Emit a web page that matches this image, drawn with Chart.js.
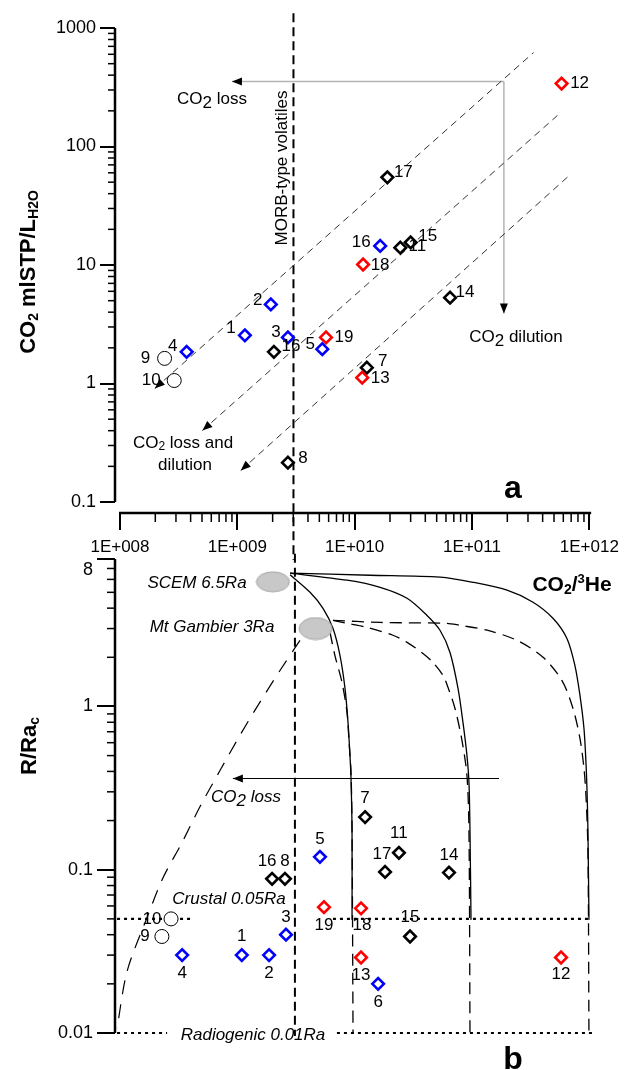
<!DOCTYPE html>
<html>
<head>
<meta charset="utf-8">
<script src="https://cdn.jsdelivr.net/npm/chart.js@4.4.1/dist/chart.umd.min.js"></script>
<style>
  body { margin: 0; background: #fff; }
  #lienzo { position: relative; width: 626px; height: 1070px; overflow: hidden; }
  #lienzo canvas { position: absolute; left: 0; }
</style>
</head>
<body>
<div id="lienzo">
  <canvas id="graficaA" width="626" height="560" style="top:0"></canvas>
  <canvas id="graficaB" width="626" height="560" style="top:510px"></canvas>
</div>
<script>
const FUENTE = '"Liberation Sans", Arial, sans-serif';
Chart.defaults.font.family = FUENTE;
Chart.defaults.color = '#000';

// Ejes (compartidos en x)
const ticksX = [1e8, 1e9, 1e10, 1e11, 1e12];
const ticksXtxt = ['1E+008', '1E+009', '1E+010', '1E+011', '1E+012'];
const ticksYa = [0.1, 1, 10, 100, 1000];
const ticksYaTxt = ['0.1', '1', '10', '100', '1000'];
const ticksYb = [0.01, 0.1, 1, 8];
const ticksYbTxt = ['0.01', '0.1', '1', '8'];

// ---- Panel a: CO2/3He vs CO2 mlSTP/L H2O ----
const azulA_id = ['1', '2', '3', '4', '5', '16'];
const azulA_x = [1.16e9, 1.93e9, 2.7e9, 3.7e8, 5.3e9, 1.65e10];
const azulA_y = [2.55, 4.65, 2.45, 1.85, 1.95, 14.5];

const rojoA_id = ['12', '13', '18', '19'];
const rojoA_x = [5.8e11, 1.16e10, 1.18e10, 5.7e9];
const rojoA_y = [340, 1.12, 10.1, 2.45];

const negroA_id = ['7', '8', '11', '14', '15', '16', '17'];
const negroA_x = [1.27e10, 2.7e9, 2.45e10, 6.5e10, 3.0e10, 2.05e9, 1.9e10];
const negroA_y = [1.36, 0.215, 14, 5.3, 15.5, 1.85, 55];

const circA_id = ['9', '10'];
const circA_x = [2.4e8, 2.9e8];
const circA_y = [1.63, 1.06];

// rectas de pérdida / dilución (extremo inferior = punta de flecha)
const recta1_x = [1.98e8, 3.35e11];
const recta1_y = [0.908, 621];
const recta2_x = [5.04e8, 5.35e11];
const recta2_y = [0.401, 183];
const recta3_x = [1.07e9, 6.89e11];
const recta3_y = [0.1845, 58];

// flechas grises
const perdida_x = [1.87e11, 9.0e8];
const perdida_y = [354, 354];
const dilucion_x = [1.87e11, 1.87e11];
const dilucion_y = [354, 3.9];

// MORB
const morbA_x = [3.01e9, 3.01e9];
const morbA_y = [1330, 0.03];

// ---- Panel b: CO2/3He vs R/Rac ----
const azulB_id = ['1', '2', '3', '4', '5', '6'];
const azulB_x = [1.07e9, 1.82e9, 2.53e9, 3.35e8, 4.9e9, 1.52e10];
const azulB_y = [0.03, 0.03, 0.04, 0.03, 0.12, 0.02];

const rojoB_id = ['12', '13', '18', '19'];
const rojoB_x = [5.35e11, 1.09e10, 1.09e10, 5.3e9];
const rojoB_y = [0.029, 0.029, 0.058, 0.059];

const negroB_id = ['7', '8', '11', '14', '15', '16', '17'];
const negroB_x = [1.18e10, 2.48e9, 2.28e10, 6.04e10, 2.83e10, 1.93e9, 1.74e10];
const negroB_y = [0.21, 0.088, 0.127, 0.096, 0.039, 0.088, 0.097];

const circB_id = ['9', '10'];
const circB_x = [2.26e8, 2.7e8];
const circB_y = [0.039, 0.05];

// curvas de mezcla SCEM 6.5Ra -> cortical (continuas)
const s1_x = [2.74e9, 4.04e9, 5.2e9, 6.31e9, 7.24e9, 7.98e9, 8.46e9, 8.79e9, 8.97e9, 9.15e9, 9.15e9];
const s1_y = [6.4, 5.0, 3.99, 3.01, 2.05, 1.29, 0.798, 0.5, 0.362, 0.173, 0.0493];
const s2_x = [2.74e9, 8.3e9, 1.58e10, 2.67e10, 3.94e10, 5.07e10, 6.16e10, 7.2e10, 7.93e10, 8.57e10, 8.91e10, 9.09e10, 9.27e10];
const s2_y = [6.55, 5.93, 5.37, 4.6, 3.61, 2.93, 2.14, 1.29, 0.798, 0.5, 0.342, 0.173, 0.0493];
const s3_x = [2.74e9, 1.3e10, 5.07e10, 9.64e10, 1.87e11, 3.1e11, 4.57e11, 6.0e11, 7.01e11, 7.73e11, 8.36e11, 8.69e11, 8.86e11, 9.03e11, 9.21e11];
const s3_y = [6.55, 6.36, 6.19, 5.76, 5.15, 4.35, 3.47, 2.61, 1.78, 1.17, 0.733, 0.453, 0.314, 0.173, 0.0493];

// Mt Gambier 3Ra -> radiogénico (discontinuas)
const d1_x = [5.96e9, 6.56e9, 7.53e9, 8.3e9, 8.64e9, 8.97e9, 9.15e9, 9.33e9];
const d1_y = [2.84, 2.05, 1.40, 0.919, 0.601, 0.394, 0.173, 0.01];
const d2_x = [6.31e9, 8.3e9, 1.22e10, 2.03e10, 2.67e10, 3.64e10, 4.42e10, 5.37e10, 5.92e10, 6.79e10, 7.78e10, 8.57e10, 8.91e10, 9.09e10];
const d2_y = [3.37, 3.23, 3.05, 2.73, 2.47, 2.11, 1.86, 1.55, 1.31, 0.972, 0.618, 0.377, 0.173, 0.01];
const d3_x = [6.31e9, 1.58e10, 5.81e10, 7.48e10, 1.27e11, 2.27e11, 3.77e11, 5.45e11, 6.75e11, 7.73e11, 8.36e11, 8.69e11, 9.03e11, 9.21e11];
const d3_y = [3.37, 3.27, 3.23, 3.14, 2.93, 2.54, 2.0, 1.44, 0.972, 0.637, 0.417, 0.284, 0.131, 0.01];

// pérdida de CO2 desde Mt Gambier
const perdB_x = [3.32e9, 2.25e9, 1.52e9, 1.03e9, 7.0e8, 4.75e8, 3.34e8, 2.31e8, 1.69e8, 1.15e8, 9.44e7];
const perdB_y = [2.54, 1.66, 1.06, 0.664, 0.405, 0.244, 0.1465, 0.0893, 0.0508, 0.024, 0.0107];

// líneas de referencia
const cortIzq_x = [9.44e7, 3.91e8];
const cortDer_x = [6.31e9, 9.77e11];
const cort_y = [0.05, 0.05];
const radIzq_x = [9.44e7, 2.5e8];
const radDer_x = [6.82e9, 9.77e11];
const rad_y = [0.01, 0.01];

const flechaB_x = [1.6e11, 9.0e8];
const flechaB_y = [0.362, 0.362];

const morbB_x = [3.01e9, 3.01e9];
const morbB_y = [8.6, 0.0096];

const scem_x = [1.96e9];
const scem_y = [5.8];
const gambier_x = [4.5e9];
const gambier_y = [3.0];

// desplazamiento de etiquetas (px respecto al punto)
const despAzulA = [[-14, -7], [-13, -4], [-12, -5], [-14, -6], [-12, -5], [-19, -4]];
const despRojoA = [[18, 0], [18, 1], [17, 1], [18, 0]];
const despNegroA = [[16, -6], [15, -4], [17, -1], [15, -5], [17, -6], [17, -6], [16, -5]];
const despCircA = [[-19, 0], [-23, 0]];
const despAzulB = [[0, -19], [0, 18], [0, -17], [0, 18], [0, -17], [0, 18]];
const despRojoB = [[0, 17], [0, 18], [1, 17], [0, 18]];
const despNegroB = [[0, -19], [0, -17], [0, -19], [0, -17], [0, -19], [-5, -17], [-3, -18]];
const despCircB = [[-17, 0], [-19, 0]];

const N17 = '17px ' + FUENTE;
const N12 = '12px ' + FUENTE;
const I17 = 'italic 17px ' + FUENTE;
const B22 = 'bold 22px ' + FUENTE;
const B21 = 'bold 21px ' + FUENTE;
const B14 = 'bold 14px ' + FUENTE;
const B13 = 'bold 13px ' + FUENTE;
const B32 = 'bold 32px ' + FUENTE;

const textosA = [
  { p: [['CO', N17], ['2', N17, 4], [' loss', N17]], x: 212, y: 99 },
  { p: [['CO', N17], ['2', N17, 4], [' dilution', N17]], x: 516, y: 337 },
  { p: [['CO', N17], ['2', N12, 4], [' loss and', N17]], x: 183, y: 443 },
  { p: [['dilution', N17]], x: 185, y: 465 },
  { p: [['MORB-type volatiles', N17]], x: 282, y: 168, rot: -Math.PI / 2 },
  { p: [['a', B32]], x: 513, y: 498, base: 'alphabetic' },
  { p: [['CO', B22], ['2', B14, 5], [' mlSTP/L', B22], ['H2O', B14, 5]], x: 29, y: 272, rot: -Math.PI / 2 }
];
const textosB = [
  { p: [['SCEM 6.5Ra', I17]], x: 197, y: 583 },
  { p: [['Mt Gambier 3Ra', I17]], x: 212, y: 627 },
  { p: [['CO', I17], ['2', I17, 4], [' loss', I17]], x: 246, y: 797 },
  { p: [['Crustal 0.05Ra', I17]], x: 229, y: 899 },
  { p: [['Radiogenic 0.01Ra', I17]], x: 253, y: 1035 },
  { p: [['CO', B21], ['2', B14, 5], ['/', B21], ['3', B13, -6], ['He', B21]], x: 572, y: 585 },
  { p: [['b', B32]], x: 513, y: 1069, base: 'alphabetic' },
  { p: [['R/Ra', B22], ['c', B14, 5]], x: 30, y: 746, rot: -Math.PI / 2 }
];

function puntos(xs, ys) {
  return xs.map((x, i) => ({ x, y: ys[i] }));
}

function escribe(ctx, partes, x, y, rot, base) {
  ctx.save();
  ctx.translate(x, y);
  if (rot) ctx.rotate(rot);
  ctx.textBaseline = base || 'middle';
  ctx.textAlign = 'left';
  ctx.fillStyle = '#000';
  let ancho = 0;
  partes.forEach(p => { ctx.font = p[1]; ancho += ctx.measureText(p[0]).width; });
  let cx = -ancho / 2;
  partes.forEach(p => {
    ctx.font = p[1];
    ctx.fillText(p[0], cx, p[2] || 0);
    cx += ctx.measureText(p[0]).width;
  });
  ctx.restore();
}

function menores(desde, hasta, tope) {
  const v = [];
  for (let e = desde; e <= hasta; e++) {
    for (let m = 2; m <= 9; m++) {
      const val = m * Math.pow(10, e);
      if (val < tope) v.push(val);
    }
  }
  return v;
}

function elipse(w, h) {
  const c = document.createElement('canvas');
  c.width = w + 2; c.height = h + 2;
  const g = c.getContext('2d');
  g.fillStyle = '#c8c8c8';
  g.strokeStyle = '#a5a5a5';
  g.lineWidth = 1;
  g.beginPath();
  g.ellipse(c.width / 2, c.height / 2, w / 2, h / 2, 0, 0, 2 * Math.PI);
  g.fill(); g.stroke();
  return c;
}

// ejes, marcas menores, textos, etiquetas y flechas
const decorado = {
  id: 'decorado',
  afterDatasetsDraw(chart, args, opts) {
    const ctx = chart.ctx;
    const { x, y } = chart.scales;
    const area = chart.chartArea;

    // etiquetas de puntos
    chart.data.datasets.forEach((ds, i) => {
      const meta = chart.getDatasetMeta(i);
      if (ds.etiquetas) {
        ctx.save();
        ctx.font = N17;
        ctx.fillStyle = '#000';
        ctx.textAlign = 'center';
        ctx.textBaseline = 'middle';
        meta.data.forEach((pt, j) => {
          ctx.fillText(ds.etiquetas[j], pt.x + ds.desp[j][0], pt.y + ds.desp[j][1]);
        });
        ctx.restore();
      }
      if (ds.flecha) {
        const n = meta.data.length;
        const punta = ds.flecha === 'inicio' ? meta.data[0] : meta.data[n - 1];
        const cola = ds.flecha === 'inicio' ? meta.data[1] : meta.data[n - 2];
        const ang = Math.atan2(punta.y - cola.y, punta.x - cola.x);
        ctx.save();
        ctx.translate(punta.x, punta.y);
        ctx.rotate(ang);
        ctx.fillStyle = '#000';
        ctx.beginPath();
        ctx.moveTo(0, 0);
        ctx.lineTo(-10, -4);
        ctx.lineTo(-10, 4);
        ctx.closePath();
        ctx.fill();
        ctx.restore();
      }
    });

    // líneas de ejes
    ctx.save();
    ctx.strokeStyle = '#000';
    ctx.lineWidth = 2.5;
    ctx.beginPath();
    ctx.moveTo(area.left, y.getPixelForValue(opts.yTope));
    ctx.lineTo(area.left, y.getPixelForValue(opts.yBase));
    ctx.stroke();
    if (opts.ejeX) {
      ctx.beginPath();
      ctx.moveTo(x.getPixelForValue(1e8) - 1, area.bottom);
      ctx.lineTo(area.right, area.bottom);
      ctx.stroke();
    }
    // marcas menores
    ctx.lineWidth = 1.5;
    opts.menY.forEach(v => {
      const py = y.getPixelForValue(v);
      ctx.beginPath();
      ctx.moveTo(area.left - opts.largoY, py);
      ctx.lineTo(area.left, py);
      ctx.stroke();
    });
    if (opts.ejeX) {
      opts.menX.forEach(v => {
        const px = x.getPixelForValue(v);
        ctx.beginPath();
        ctx.moveTo(px, area.bottom);
        ctx.lineTo(px, area.bottom + 9);
        ctx.stroke();
      });
    }
    ctx.restore();

    opts.textos.forEach(t => escribe(ctx, t.p, t.x, t.y - opts.desfase, t.rot, t.base));
  }
};

function escalaX(mostrar) {
  return {
    type: 'logarithmic',
    position: 'bottom',
    display: mostrar,
    min: 9.07e7,
    max: 1.036e12,
    afterBuildTicks: s => { s.ticks = ticksX.map(v => ({ value: v })); },
    afterFit: s => { s.height = mostrar ? 47 : 0; },
    border: { display: false },
    grid: { drawOnChartArea: false, color: '#000', lineWidth: 2, tickLength: 17 },
    ticks: { autoSkip: false, maxRotation: 0, padding: 7, font: { size: 17 }, callback: (v, i) => ticksXtxt[i] }
  };
}

function escalaY(min, max, valores, textos, largo, ultimoBajo) {
  return {
    type: 'logarithmic',
    position: 'left',
    min: min,
    max: max,
    afterBuildTicks: s => { s.ticks = valores.map(v => ({ value: v })); },
    afterFit: s => { s.width = 115; },
    border: { display: false },
    grid: { drawOnChartArea: false, color: '#000', lineWidth: 2, tickLength: largo },
    ticks: {
      autoSkip: false, padding: 4, font: { size: 18 },
      callback: (v, i) => (ultimoBajo && i === valores.length - 1) ? ['', textos[i]] : textos[i]
    }
  };
}

function serieDiamante(xs, ys, ids, desp, color) {
  return {
    data: puntos(xs, ys), etiquetas: ids, desp: desp,
    pointStyle: 'rectRot', pointRadius: 5.8, pointBorderWidth: 2.6,
    pointBorderColor: color, pointBackgroundColor: '#fff', showLine: false, order: 0
  };
}

function serieCirculo(xs, ys, ids, desp) {
  return {
    data: puntos(xs, ys), etiquetas: ids, desp: desp,
    pointStyle: 'circle', pointRadius: 7, pointBorderWidth: 1,
    pointBorderColor: '#000', pointBackgroundColor: '#fff', showLine: false, order: 0
  };
}

function serieLinea(xs, ys, color, ancho, guion, extra) {
  return Object.assign({
    data: puntos(xs, ys), showLine: true, pointRadius: 0,
    borderColor: color, borderWidth: ancho, borderDash: guion || [], tension: 0, order: 5
  }, extra || {});
}

const comunes = {
  responsive: false,
  animation: false,
  events: [],
  plugins: { legend: { display: false }, tooltip: { enabled: false } }
};

// Panel a
new Chart(document.getElementById('graficaA'), {
  type: 'scatter',
  data: {
    datasets: [
      serieDiamante(azulA_x, azulA_y, azulA_id, despAzulA, '#0000ff'),
      serieDiamante(rojoA_x, rojoA_y, rojoA_id, despRojoA, '#ff0000'),
      serieDiamante(negroA_x, negroA_y, negroA_id, despNegroA, '#000'),
      serieCirculo(circA_x, circA_y, circA_id, despCircA),
      serieLinea(recta1_x, recta1_y, '#333', 1, [7, 5], { flecha: 'inicio' }),
      serieLinea(recta2_x, recta2_y, '#333', 1, [7, 5], { flecha: 'inicio' }),
      serieLinea(recta3_x, recta3_y, '#333', 1, [7, 5], { flecha: 'inicio' }),
      serieLinea(perdida_x, perdida_y, '#b4b4b4', 1.5, [], { flecha: 'fin' }),
      serieLinea(dilucion_x, dilucion_y, '#b4b4b4', 1.5, [], { flecha: 'fin' }),
      serieLinea(morbA_x, morbA_y, '#000', 2, [9, 5], { clip: false })
    ]
  },
  options: Object.assign({}, comunes, {
    layout: { padding: { top: 28, right: 31, left: 0, bottom: 0 } },
    scales: {
      x: escalaX(true),
      y: escalaY(0.0808, 1000, ticksYa, ticksYaTxt, 15, false)
    },
    plugins: Object.assign({}, comunes.plugins, {
      decorado: {
        yTope: 1000, yBase: 0.1, ejeX: true, largoY: 7, desfase: 0,
        menY: menores(-1, 2, 1000), menX: menores(8, 11, 1e12), textos: textosA
      }
    })
  }),
  plugins: [decorado]
});

// Panel b
new Chart(document.getElementById('graficaB'), {
  type: 'scatter',
  data: {
    datasets: [
      { data: puntos(scem_x, scem_y), pointStyle: elipse(33, 20), pointRadius: 10, order: -1 },
      { data: puntos(gambier_x, gambier_y), pointStyle: elipse(33, 22), pointRadius: 10, order: -1 },
      serieDiamante(azulB_x, azulB_y, azulB_id, despAzulB, '#0000ff'),
      serieDiamante(rojoB_x, rojoB_y, rojoB_id, despRojoB, '#ff0000'),
      serieDiamante(negroB_x, negroB_y, negroB_id, despNegroB, '#000'),
      serieCirculo(circB_x, circB_y, circB_id, despCircB),
      serieLinea(s1_x, s1_y, '#000', 1.3, [], { tension: 0.3 }),
      serieLinea(s2_x, s2_y, '#000', 1.3, [], { tension: 0.3 }),
      serieLinea(s3_x, s3_y, '#000', 1.3, [], { tension: 0.3 }),
      serieLinea(d1_x, d1_y, '#000', 1.3, [12, 7], { tension: 0.3, clip: false }),
      serieLinea(d2_x, d2_y, '#000', 1.3, [12, 7], { tension: 0.3, clip: false }),
      serieLinea(d3_x, d3_y, '#000', 1.3, [12, 7], { tension: 0.3, clip: false }),
      serieLinea(perdB_x, perdB_y, '#000', 1.2, [14, 10], { tension: 0.3, clip: false }),
      serieLinea(cortIzq_x, cort_y, '#000', 2.2, [3, 4]),
      serieLinea(cortDer_x, cort_y, '#000', 2.2, [3, 4]),
      serieLinea(radIzq_x, rad_y, '#000', 2.2, [3, 4], { clip: false }),
      serieLinea(radDer_x, rad_y, '#000', 2.2, [3, 4], { clip: false }),
      serieLinea(flechaB_x, flechaB_y, '#000', 1.2, [], { flecha: 'fin' }),
      serieLinea(morbB_x, morbB_y, '#000', 2, [9, 5], { clip: false })
    ]
  },
  options: Object.assign({}, comunes, {
    layout: { padding: { top: 49, right: 31, left: 0, bottom: 37 } },
    scales: {
      x: escalaX(false),
      y: escalaY(0.01, 8, ticksYb, ticksYbTxt, 18, true)
    },
    plugins: Object.assign({}, comunes.plugins, {
      decorado: {
        yTope: 8, yBase: 0.01, ejeX: false, largoY: 8, desfase: 510,
        menY: menores(-2, 0, 8.5), menX: [], textos: textosB
      }
    })
  }),
  plugins: [decorado]
});
</script>
</body>
</html>
